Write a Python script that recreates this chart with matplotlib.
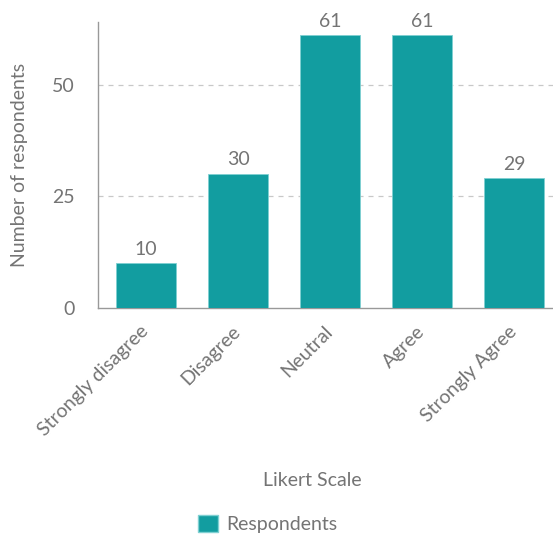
import matplotlib
matplotlib.use("Agg")
import matplotlib.pyplot as plt
from matplotlib.patches import Patch

categories = ["Strongly disagree", "Disagree", "Neutral", "Agree", "Strongly Agree"]
values = [10, 30, 61, 61, 29]
yticks = [0, 25, 50]
series_name = "Respondents"

W, H = 553, 540
plt.rcParams['font.family'] = ['Lato', 'DejaVu Sans']
fig = plt.figure(figsize=(W/100, H/100), dpi=100)
ax = fig.add_axes([98/W, 1-308/H, (553-98)/W, (308-22)/H])

bar_color = "#129da0"
text_color = "#747474"
fs = 14
x = list(range(len(categories)))
bars = ax.bar(x, values, width=0.65, color=bar_color, edgecolor="#7fd0d2", linewidth=0.6, zorder=3)
for b, v in zip(bars, values):
    ax.annotate(str(v), (b.get_x()+b.get_width()/2, v), xytext=(0, 4), textcoords="offset points",
                ha="center", va="bottom", fontsize=fs, color=text_color)

ax.set_xlim(-0.52, 4.42)
ax.set_ylim(0, 64)
ax.set_yticks(yticks)
ax.set_yticklabels([str(t) for t in yticks], fontsize=fs, color=text_color)
ax.set_xticks(x)
ax.set_xticklabels(categories, rotation=45, ha="right", va="center", rotation_mode="anchor",
                   fontsize=14, color=text_color)
ax.tick_params(axis="both", length=0)
ax.tick_params(axis="y", pad=17)
ax.tick_params(axis="x", pad=15)
for t in yticks[1:]:
    ax.axhline(t, color="#c8c8c8", linestyle=(0, (4, 4)), linewidth=0.9, zorder=1)
for s in ["top", "right"]:
    ax.spines[s].set_visible(False)
for s in ["left", "bottom"]:
    ax.spines[s].set_color("#999999")
    ax.spines[s].set_linewidth(1.0)

fig.text(20/W, 1-165/H, "Number of respondents", rotation=90, ha="center", va="center",
         fontsize=fs, color=text_color)
fig.text(312/W, 1-480/H, "Likert Scale", ha="center", va="center", fontsize=fs, color=text_color)
fig.legend(handles=[Patch(facecolor=bar_color, edgecolor="#7fd0d2", label=series_name)],
           loc="center", bbox_to_anchor=(268/W, 1-524/H), frameon=False, fontsize=fs,
           labelcolor=text_color, handlelength=1.0, handleheight=1.0, handletextpad=0.45)

fig.savefig("out.png", dpi=100)
